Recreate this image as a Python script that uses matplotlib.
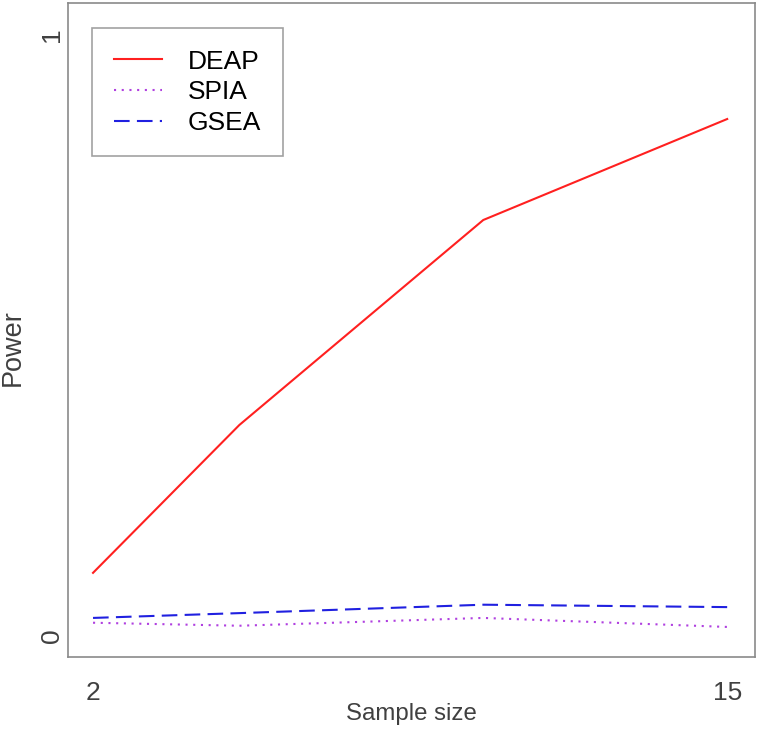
import matplotlib.pyplot as plt

# Data
sample_size = [2, 5, 10, 15]
deap = [0.105, 0.351, 0.692, 0.860]
spia = [0.022, 0.017, 0.030, 0.015]
gsea = [0.030, 0.038, 0.052, 0.048]

plt.rcParams['font.family'] = ['Liberation Sans', 'DejaVu Sans']

W, H = 759, 731
fig = plt.figure(figsize=(W / 100, H / 100), dpi=100)
# axes box in pixels: left 68, right 755, top 3, bottom 657
ax = fig.add_axes([68 / W, 1 - 657 / H, (755 - 68) / W, (657 - 3) / H])

ax.plot(sample_size, deap, color="#FF2020", lw=1.5, label="DEAP")
ax.plot(sample_size, spia, color="#B040E0", lw=1.5, dashes=(1, 2.7), label="SPIA")
ax.plot(sample_size, gsea, color="#2020E0", lw=1.5, dashes=(7.5, 3.5), label="GSEA")

ax.set_xlim(1.487, 15.57)
ax.set_ylim(-0.035, 1.053)
ax.set_xticks([2, 15])
ax.set_yticks([0, 1])
ax.set_xticklabels(["2", "15"], fontsize=19)
ax.set_yticklabels(["0", "1"], rotation=90, va="center", fontsize=19)
ax.tick_params(length=0, labelcolor="#404040")
ax.tick_params(axis="x", pad=17)
ax.tick_params(axis="y", pad=3)

for sp in ax.spines.values():
    sp.set_color("#8a8a8a")
    sp.set_linewidth(1.2)

ax.set_xlabel("Sample size", fontsize=17.3, color="#404040", va="baseline")
ax.xaxis.set_label_coords(0.5, (657 - 720) / 654)
ax.set_ylabel("Power", fontsize=19.5, color="#404040", va="center")
ax.yaxis.set_label_coords((13 - 68) / 687, (657 - 348) / 654)

leg = ax.legend(loc="upper left", bbox_to_anchor=(92 / W, 1 - 28 / H),
                bbox_transform=fig.transFigure, frameon=True,
                prop={"size": 19},
                fancybox=False, edgecolor="#8a8a8a", handlelength=1.85,
                handletextpad=0.95, labelspacing=0.25, borderpad=0.82,
                borderaxespad=0)
leg.get_frame().set_linewidth(1.2)

fig.savefig("out.png", dpi=100)
